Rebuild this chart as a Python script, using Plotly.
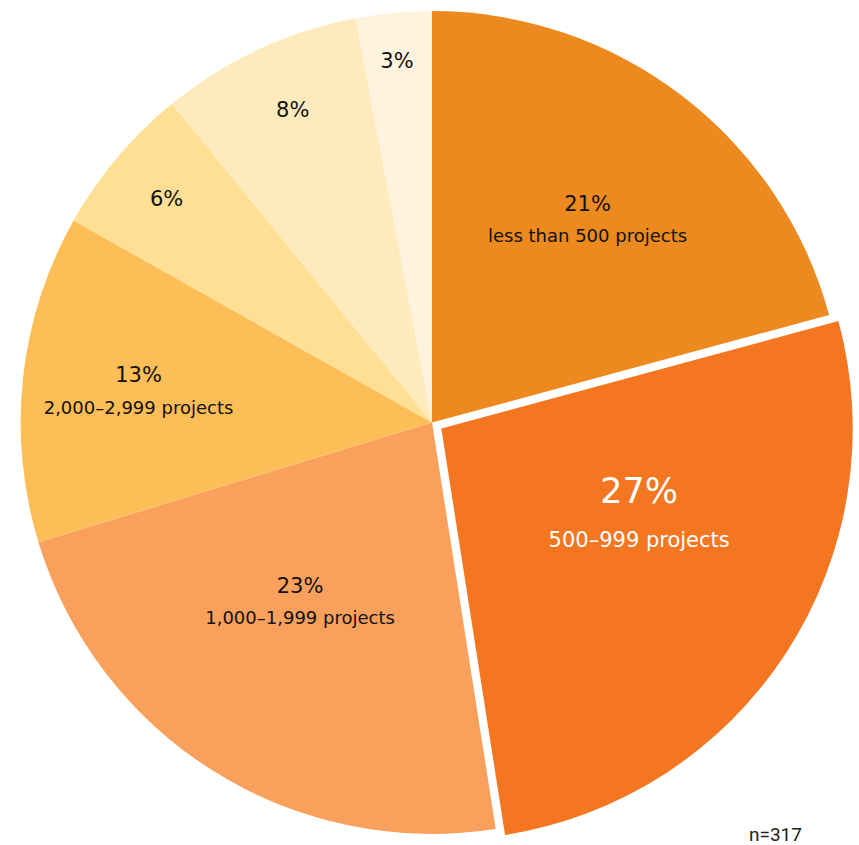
import plotly.graph_objects as go

# Data (clockwise from 12 o'clock)
shares = [21, 27, 23, 13, 6, 8, 3]
pct_labels = ["21%", "27%", "23%", "13%", "6%", "8%", "3%"]
categories = ["less than 500 projects", "500–999 projects", "1,000–1,999 projects",
              "2,000–2,999 projects", "", "", ""]
colors = ["#EC8A20", "#F47621", "#F9A05C", "#FDBD57", "#FEDF94", "#FEEABD", "#FEF3DF"]
pulls = [0, 0.027, 0, 0, 0, 0, 0]
sample_note = "n=317"

# styling
base_sizes = [24, 34, 24, 24, 21, 21, 21]      # sets line spacing
pct_sizes = [21, 35, 21, 21, 21, 21, 21]
cat_sizes = [18, 21, 18, 18, 18, 18, 18]
pad_below = [0, 2, 2, 0, 0, 1, 0]              # nudge label block upward
pad_above = [0, 0, 0, 0, 0, 0, 1]              # nudge label block downward
font_colors = ["#111111", "#FFFFFF", "#111111", "#111111", "#111111", "#111111", "#111111"]

texts = []
for p, c, ps, cs, pb, pa in zip(pct_labels, categories, pct_sizes, cat_sizes, pad_below, pad_above):
    t = "&nbsp;<br>" * pa + f"<span style='font-size:{ps}px'>{p}</span>"
    if c:
        t += f"<br><span style='font-size:{cs}px'>{c}</span>"
    t += "<br>&nbsp;" * pb
    texts.append(t)

fig = go.Figure(go.Pie(
    values=shares,
    text=texts,
    textinfo="text",
    textposition="inside",
    insidetextorientation="horizontal",
    insidetextfont=dict(family="DejaVu Sans", color=font_colors, size=base_sizes),
    marker=dict(colors=colors, line=dict(width=0)),
    pull=pulls,
    sort=False,
    direction="clockwise",
    rotation=0,
    hoverinfo="skip",
    showlegend=False,
    domain=dict(x=[5 / 859, 1], y=[0, 1]),
))

fig.add_annotation(text=sample_note, x=775 / 859, y=1 - 834 / 845, xref="paper", yref="paper",
                   xanchor="center", yanchor="middle",
                   showarrow=False, font=dict(family="Roboto", size=19, color="#222222"))

fig.update_layout(width=859, height=845, margin=dict(l=0, r=0, t=0, b=0),
                  paper_bgcolor="white", plot_bgcolor="white")
fig.write_html("out.html", config={"displayModeBar": False},
               post_script="document.body.style.margin='0px';")
